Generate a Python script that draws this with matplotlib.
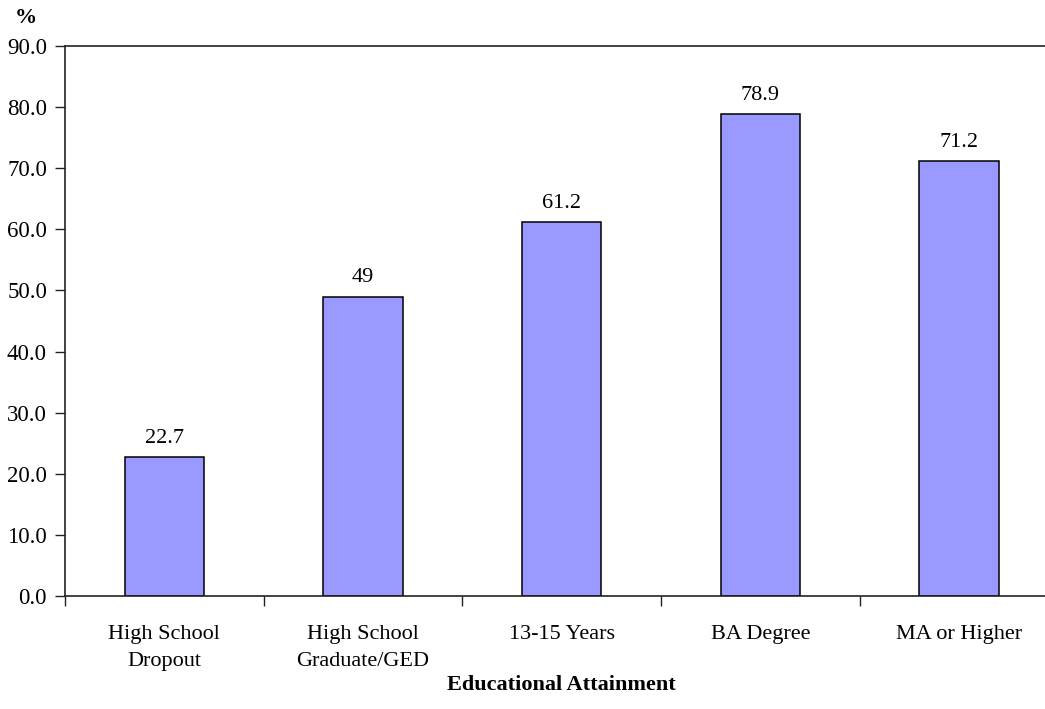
import matplotlib
matplotlib.use("Agg")
import matplotlib.pyplot as plt
from matplotlib.ticker import FixedLocator

categories = ["High School\nDropout", "High School\nGraduate/GED", "13-15 Years",
              "BA Degree", "MA or Higher"]
values = [22.7, 49, 61.2, 78.9, 71.2]
y_ticks = [0, 10, 20, 30, 40, 50, 60, 70, 80, 90]

plt.rcParams["font.family"] = ["Liberation Serif", "DejaVu Serif"]

W, H = 1045, 709
fig = plt.figure(figsize=(W / 100, H / 100), dpi=100)
left, bottom = 65 / W, (H - 596) / H
ax = fig.add_axes([left, bottom, 993.5 / W, 550 / H])

x = list(range(len(categories)))
ax.bar(x, values, width=0.4, color="#9999FF", edgecolor="black", linewidth=1.1, zorder=2)

for xi, v in zip(x, values):
    ax.text(xi, v + 1.5, f"{v:g}", ha="center", va="bottom", fontsize=16)

ax.set_xlim(-0.5, len(categories) - 0.5)
ax.set_ylim(0, 90)
ax.set_yticks(y_ticks)
ax.set_yticklabels([f"{t:.1f}" for t in y_ticks], fontsize=16.5)

ax.set_xticks(x)
ax.set_xticklabels(categories, fontsize=16, linespacing=1.55)
ax.tick_params(axis="x", which="major", length=0, pad=21)
ax.xaxis.set_minor_locator(FixedLocator([i - 0.5 for i in range(len(categories) + 1)]))
ax.tick_params(axis="x", which="minor", length=7, width=1, color="#222222", direction="out")
ax.tick_params(axis="y", length=7, width=1, color="#222222", direction="out", pad=6)

for side in ("left", "bottom", "top"):
    ax.spines[side].set_linewidth(1.2)
    ax.spines[side].set_color("#222222")
ax.spines["right"].set_visible(False)

fig.text(26 / W, 1 - 18 / H, "%", ha="center", va="center", fontsize=16, fontweight="bold")
fig.text(left + 993.5 / W / 2, 1 - 685 / H, "Educational Attainment",
         ha="center", va="center", fontsize=16, fontweight="bold")

fig.savefig("out.png", dpi=100)
